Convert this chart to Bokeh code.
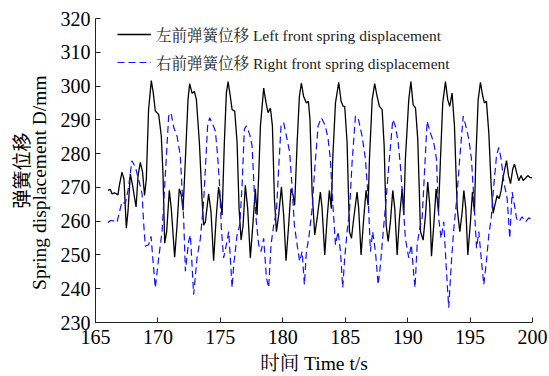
from bokeh.plotting import figure
from bokeh.models import Range1d, FixedTicker, Legend, LegendItem, LinearAxis
from bokeh.embed import file_html
from bokeh.resources import INLINE

# ---- data ----
left_t = [166.00, 166.19, 166.32, 166.53, 166.80, 166.91, 167.12, 167.28, 167.47, 167.60,
          167.79, 167.97, 168.25, 168.41, 168.59, 168.77, 168.93, 169.07, 169.25, 169.47,
          169.63, 169.79, 170.06, 170.27, 170.41, 170.54, 170.70, 170.91, 171.07, 171.34,
          171.53, 171.71, 171.88, 172.01, 172.20, 172.41, 172.54, 172.73, 172.92, 173.08,
          173.32, 173.53, 173.66, 173.80, 174.06, 174.25, 174.46, 174.66, 174.86, 175.06,
          175.14, 175.32, 175.48, 175.62, 175.80, 175.94, 176.15, 176.34, 176.50, 176.66,
          176.82, 177.00, 177.19, 177.40, 177.62, 177.80, 177.94, 178.07, 178.21, 178.47,
          178.66, 178.82, 179.01, 179.17, 179.33, 179.49, 179.67, 179.89, 180.07, 180.26,
          180.47, 180.66, 180.83, 180.95, 181.15, 181.33, 181.49, 181.67, 181.89, 182.05,
          182.18, 182.35, 182.56, 182.75, 183.01, 183.15, 183.36, 183.55, 183.73, 183.89,
          184.00, 184.22, 184.48, 184.67, 184.83, 184.96, 185.15, 185.34, 185.50, 185.68,
          185.95, 186.08, 186.27, 186.48, 186.67, 186.84, 186.94, 187.16, 187.36, 187.56,
          187.74, 187.96, 188.12, 188.28, 188.44, 188.62, 188.81, 188.97, 189.16, 189.34,
          189.56, 189.69, 189.82, 190.09, 190.26, 190.44, 190.63, 190.81, 191.03, 191.24,
          191.43, 191.61, 191.77, 191.91, 192.09, 192.28, 192.47, 192.63, 192.81, 193.03,
          193.21, 193.37, 193.56, 193.75, 193.97, 194.18, 194.37, 194.50, 194.66, 194.82,
          195.03, 195.19, 195.35, 195.46, 195.65, 195.83, 196.02, 196.15, 196.31, 196.50,
          196.69, 196.85, 196.98, 197.17, 197.33, 197.49, 197.62, 197.78, 197.92, 198.08,
          198.24, 198.42, 198.56, 198.72, 198.90, 199.09, 199.25, 199.44, 199.62, 199.78,
          199.98]
left_d = [269.1, 269.4, 268.1, 268.4, 267.8, 270.6, 274.5, 272.5, 257.9, 262.8,
          274.0, 270.6, 264.2, 273.5, 277.4, 274.5, 267.6, 272.5, 293.0, 301.6,
          297.9, 292.6, 291.6, 285.2, 273.5, 253.5, 256.9, 269.1, 263.7, 249.3,
          258.8, 269.6, 267.6, 263.2, 278.4, 296.0, 300.7, 297.9, 298.4, 296.0,
          283.3, 266.7, 258.8, 259.8, 268.1, 262.8, 248.3, 260.8, 270.1, 264.7,
          261.8, 283.3, 297.9, 301.3, 296.9, 293.0, 292.6, 283.3, 263.7, 254.4,
          258.8, 270.6, 263.7, 249.1, 259.8, 269.6, 261.8, 273.5, 288.2, 299.4,
          295.0, 292.1, 293.5, 288.2, 266.7, 256.9, 261.8, 270.1, 261.8, 248.3,
          258.8, 269.6, 267.6, 264.7, 283.3, 296.9, 300.9, 296.9, 295.0, 295.5,
          290.0, 268.6, 255.9, 260.8, 268.6, 263.7, 250.0, 260.8, 269.1, 263.7,
          278.4, 295.0, 301.1, 295.5, 294.0, 294.0, 283.3, 256.9, 254.9, 260.8,
          268.6, 263.7, 250.0, 260.8, 269.1, 264.7, 278.4, 296.0, 300.7, 296.9,
          294.0, 293.0, 282.3, 258.8, 254.0, 259.8, 269.1, 263.7, 250.0, 260.8,
          269.6, 261.8, 278.4, 296.0, 301.3, 294.5, 293.5, 284.3, 256.9, 254.4,
          261.8, 271.6, 264.7, 249.6, 258.8, 269.6, 262.8, 278.4, 295.0, 301.3,
          296.0, 294.0, 297.9, 288.2, 263.7, 256.9, 262.8, 269.1, 263.7, 250.0,
          259.8, 268.6, 262.8, 278.4, 296.0, 301.1, 296.9, 295.0, 295.5, 286.2,
          270.6, 262.3, 264.7, 267.6, 266.7, 269.1, 272.5, 275.5, 277.9, 273.5,
          271.1, 275.5, 276.9, 274.5, 272.0, 273.5, 272.0, 272.7, 273.5, 273.0,
          272.8]

right_t = [166.00, 166.19, 166.45, 166.72, 166.91, 167.12, 167.39, 167.63, 167.92, 168.19,
           168.45, 168.73, 168.85, 168.99, 169.25, 169.45, 169.61, 169.79, 170.06, 170.33,
           170.59, 170.86, 171.05, 171.26, 171.53, 171.79, 172.06, 172.20, 172.46, 172.60,
           172.86, 173.13, 173.40, 173.66, 173.80, 173.98, 174.14, 174.33, 174.60, 174.78,
           174.94, 175.08, 175.26, 175.48, 175.67, 175.94, 176.07, 176.34, 176.55, 176.74,
           176.92, 177.08, 177.35, 177.54, 177.72, 177.88, 178.07, 178.26, 178.47, 178.69,
           178.87, 179.06, 179.27, 179.49, 179.67, 179.86, 180.07, 180.34, 180.55, 180.75,
           180.93, 181.15, 181.35, 181.55, 181.73, 181.89, 182.08, 182.35, 182.56, 182.83,
           183.09, 183.41, 183.63, 183.81, 183.95, 184.22, 184.43, 184.62, 184.80, 184.96,
           185.15, 185.34, 185.55, 185.82, 186.03, 186.35, 186.62, 186.84, 187.02, 187.20,
           187.42, 187.64, 187.82, 188.09, 188.28, 188.49, 188.81, 189.02, 189.24, 189.42,
           189.61, 189.82, 190.09, 190.30, 190.47, 190.59, 190.76, 190.97, 191.16, 191.35,
           191.56, 191.77, 192.09, 192.31, 192.49, 192.68, 192.89, 193.11, 193.29, 193.49,
           193.70, 193.91, 194.17, 194.45, 194.66, 194.90, 195.11, 195.30, 195.52, 195.70,
           195.89, 196.10, 196.31, 196.50, 196.69, 196.90, 197.12, 197.30, 197.49, 197.70,
           197.97, 198.18, 198.37, 198.56, 198.72, 198.90, 199.17, 199.44, 199.70, 199.98]
right_d = [259.6, 260.2, 260.1, 259.6, 262.6, 265.7, 265.2, 269.6, 277.9, 276.0,
           272.5, 268.1, 259.8, 252.6, 253.0, 255.5, 248.1, 240.3, 249.1, 256.9,
           273.5, 291.1, 292.1, 287.8, 285.2, 279.4, 260.8, 245.2, 254.0, 255.9,
           238.3, 249.1, 254.9, 265.7, 275.5, 288.2, 290.6, 289.2, 286.7, 279.4,
           270.6, 257.9, 249.1, 253.0, 256.9, 240.3, 247.1, 255.9, 258.8, 270.6,
           287.2, 288.2, 285.7, 282.3, 268.6, 259.8, 253.0, 251.0, 254.9, 243.2,
           240.3, 253.0, 258.8, 262.8, 275.5, 288.2, 289.2, 284.3, 280.4, 269.6,
           258.8, 253.0, 248.1, 251.0, 241.2, 251.0, 254.9, 263.7, 275.5, 288.2,
           290.6, 288.2, 284.3, 278.4, 268.6, 253.0, 256.9, 251.0, 240.3, 249.1,
           256.9, 262.8, 277.4, 291.1, 290.6, 285.2, 278.4, 266.7, 251.0, 256.9,
           251.0, 241.2, 247.1, 258.8, 266.7, 276.4, 290.1, 288.2, 283.3, 276.4,
           266.7, 254.9, 249.1, 253.0, 245.0, 240.3, 253.0, 257.9, 260.8, 274.5,
           289.6, 286.7, 283.3, 278.4, 260.8, 254.9, 259.8, 245.2, 234.4, 247.1,
           257.9, 265.7, 278.4, 291.1, 288.2, 284.3, 278.4, 266.7, 252.0, 256.9,
           249.1, 241.2, 248.1, 255.9, 260.8, 270.6, 279.4, 281.8, 278.4, 271.6,
           266.7, 254.9, 268.6, 264.7, 260.8, 259.8, 261.3, 259.8, 261.0, 260.3]

x_ticks = [165, 170, 175, 180, 185, 190, 195, 200]
y_ticks = [230, 240, 250, 260, 270, 280, 290, 300, 310, 320]

legend_left = "左前弹簧位移 Left front spring displacement"
legend_right = "右前弹簧位移 Right front spring displacement"
x_title = "时间 Time t/s"
y_title_cn = "弹簧位移"
y_title_en = "Spring displacement D/mm"

assert len(left_t) == len(left_d)
assert len(right_t) == len(right_d)

SERIF = "'Liberation Serif', 'Noto Serif CJK SC', 'Noto Sans CJK SC'"
CJK = "'Noto Sans CJK SC'"
AXIS_COLOR = "#222222"

p = figure(width=549, height=376,
           x_range=Range1d(165, 200), y_range=Range1d(230, 320),
           output_backend="svg", toolbar_location=None,
           min_border_left=95, min_border_right=17,
           min_border_top=18, min_border_bottom=51)
p.outline_line_color = None
p.grid.visible = False
p.background_fill_color = "white"
p.border_fill_color = "white"

r1 = p.line(left_t, left_d, line_color="black", line_width=1.3)
r2 = p.line(right_t, right_d, line_color="#1010ff", line_width=1.2, line_dash="7 4")

xax = p.xaxis[0]
yax = p.yaxis[0]
for ax in (xax, yax):
    ax.major_tick_in = 5
    ax.major_tick_out = 0
    ax.minor_tick_line_color = None
    ax.axis_line_color = AXIS_COLOR
    ax.major_tick_line_color = AXIS_COLOR
    ax.major_label_text_font = SERIF
    ax.major_label_text_font_size = "20px"
    ax.major_label_text_color = "black"

xax.ticker = FixedTicker(ticks=x_ticks)
yax.ticker = FixedTicker(ticks=y_ticks)
xax.major_label_standoff = 7
yax.major_label_standoff = 5

# x axis title
xax.axis_label = x_title
xax.axis_label_text_font = SERIF
xax.axis_label_text_font_size = "19.5px"
xax.axis_label_text_font_style = "normal"
xax.axis_label_text_color = "black"
xax.axis_label_standoff = 6


def title_axis(text, font, size, standoff):
    ax = LinearAxis(ticker=FixedTicker(ticks=[]), axis_line_color=None,
                    major_tick_line_color=None, minor_tick_line_color=None,
                    major_label_text_font_size="0px",
                    axis_label=text, axis_label_text_font=font,
                    axis_label_text_font_size=size,
                    axis_label_text_font_style="normal",
                    axis_label_text_color="black",
                    axis_label_standoff=standoff)
    p.add_layout(ax, "left")
    return ax


# two-line y title: English line next to the ticks, Chinese line outside it
title_axis(y_title_en + "     ", SERIF, "19.5px", 8)
title_axis(y_title_cn, CJK, "19px", -8)

legend = Legend(items=[LegendItem(label=legend_left, renderers=[r1]),
                       LegendItem(label=legend_right, renderers=[r2])],
                location=(22, 249), orientation="vertical",
                margin=0, padding=0, spacing=6,
                glyph_width=34, glyph_height=20, label_height=20,
                label_standoff=5, border_line_color=None,
                background_fill_alpha=0,
                label_text_font=SERIF, label_text_font_size="15.5px",
                label_text_color="#222222")
p.add_layout(legend)

with open("out.html", "w", encoding="utf-8") as f:
    f.write(file_html(p, INLINE))
